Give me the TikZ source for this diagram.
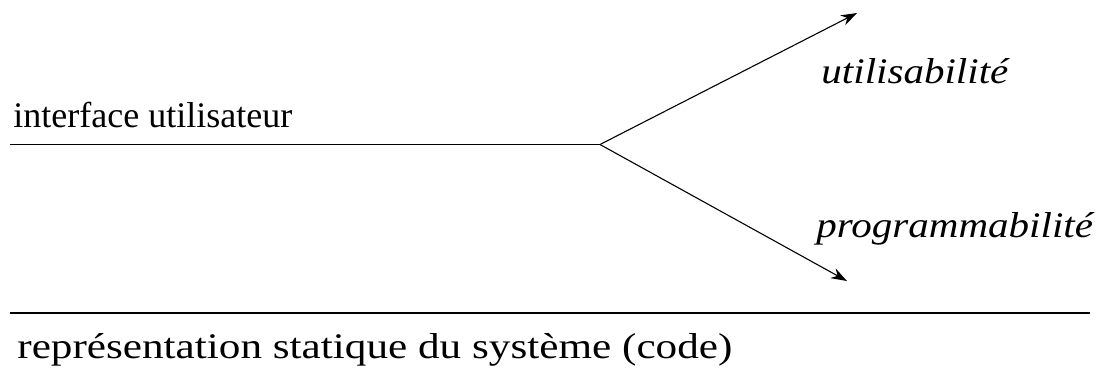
\documentclass[tikz,border=0pt]{standalone}
\usepackage{fontspec}
\setmainfont{Liberation Serif}
\newfontfamily\qualityfont[FakeStretch=1.14]{Liberation Serif}
\newfontfamily\codefont[FakeStretch=1.2]{Liberation Serif}
\usetikzlibrary{arrows.meta,positioning}

\begin{document}
\begin{tikzpicture}[
    x=0.5pt, y=-0.5pt,
    label/.style={inner sep=0pt, anchor=base west, font=\fontsize{18}{21}\selectfont},
    quality/.style={inner sep=0pt, anchor=base west, font=\fontsize{18}{21}\selectfont\qualityfont\itshape},
    line/.style={line width=0.9pt},
    arrow/.style={-{Stealth[length=8pt, width=5.5pt]}, line width=0.55pt}
]
\useasboundingbox (0,0) rectangle (1102,372);

\coordinate (ui_start) at (10,144.5);
\coordinate (split) at (600,144.5);
\coordinate (up_end) at (857,13);
\coordinate (down_end) at (847,281);
\coordinate (code_start) at (10,313);
\coordinate (code_end) at (1090,313);

\node[label] (ui) at (13,127) {interface utilisateur};
\node[quality] (usab) at (821,83) {utilisabilité};
\node[quality] (prog) at (816,237) {programmabilité};
\node[label, font=\fontsize{18}{21}\selectfont\codefont] (code) at (17,358) {représentation statique du système (code)};

\draw[line] (ui_start) -- (split);
\draw[arrow] (split) -- (up_end);
\draw[arrow] (split) -- (down_end);
\draw[line] (code_start) -- (code_end);

\end{tikzpicture}
\end{document}
